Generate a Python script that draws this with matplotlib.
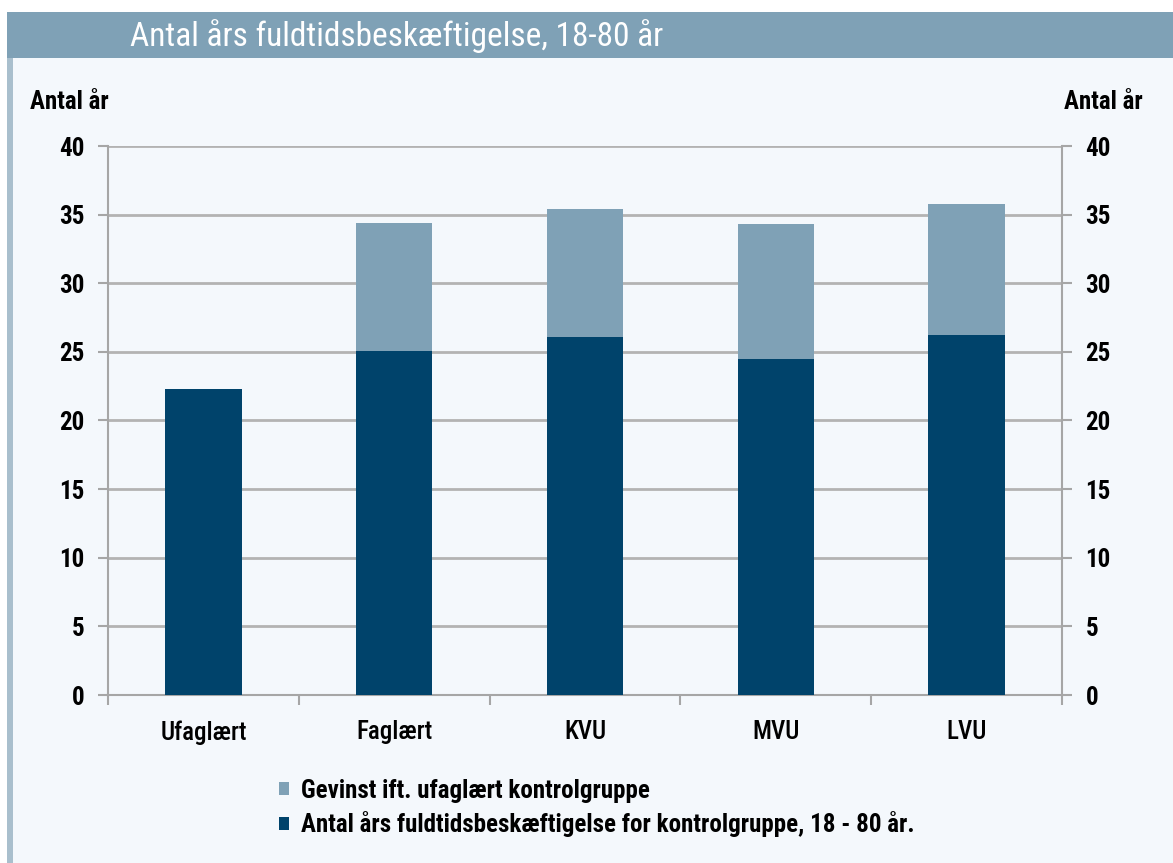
import matplotlib
matplotlib.use("Agg")
import matplotlib.pyplot as plt
from matplotlib import font_manager
from matplotlib.patches import Rectangle, Patch
import numpy as np

categories = ["Ufaglært", "Faglært", "KVU", "MVU", "LVU"]
control_years = [22.3, 25.1, 26.1, 24.5, 26.2]
gain_years = [0.0, 9.3, 9.3, 9.8, 9.6]
yticks = [0, 5, 10, 15, 20, 25, 30, 35, 40]

title = "Antal års fuldtidsbeskæftigelse, 18-80 år"
ylabel = "Antal år"
label_gain = "Gevinst ift. ufaglært kontrolgruppe"
label_control = "Antal års fuldtidsbeskæftigelse for kontrolgruppe, 18 - 80 år."

DARK = "#00436b"
LIGHT = "#7fa1b6"
GRID = "#b3b3b3"
BG = "#f4f8fc"

# pick a narrow humanist font if one is around
installed = {f.name for f in font_manager.fontManager.ttflist}
font = "DejaVu Sans"
for cand in ["Liberation Sans Narrow", "Roboto Condensed", "Open Sans Condensed", "Lato"]:
    if cand in installed:
        font = cand
        break
plt.rcParams["font.family"] = [font, "DejaVu Sans"]

fig = plt.figure(figsize=(11.73, 8.63), dpi=100, facecolor="white")

# panel background + left border + title bar (behind the axes)
fig.patches.append(Rectangle((7 / 1173, 0), 1 - 7 / 1173, 1 - 12 / 863,
                             transform=fig.transFigure, facecolor=BG,
                             edgecolor="none", zorder=-3))
fig.patches.append(Rectangle((7 / 1173, 0), 6 / 1173, 1 - 12 / 863,
                             transform=fig.transFigure, facecolor="#a9bfcd",
                             edgecolor="none", zorder=-2))
fig.patches.append(Rectangle((7 / 1173, 1 - 58 / 863), 1 - 7 / 1173, 46 / 863,
                             transform=fig.transFigure, facecolor=LIGHT,
                             edgecolor="none", zorder=-2))
fig.text(130 / 1173, 1 - 36 / 863, title, color="white", fontsize=24,
         ha="left", va="center")

ax = fig.add_axes([108 / 1173, 1 - 695 / 863, (1062 - 108) / 1173, (695 - 146) / 863])
ax.set_facecolor("none")

x = np.arange(len(categories))
ax.bar(x, control_years, width=0.4, color=DARK, zorder=3)
ax.bar(x, gain_years, width=0.4, bottom=control_years, color=LIGHT, zorder=3)

ax.set_xlim(-0.5, len(categories) - 0.5)
ax.set_ylim(0, 40)
ax.set_yticks(yticks)
ax.set_xticks(x)
ax.set_xticklabels(categories)
ax.set_xticks(np.arange(-0.5, len(categories), 1), minor=True)

ax.grid(axis="y", color=GRID, linewidth=2, zorder=1)
ax.set_axisbelow(True)

for side in ["left", "right", "bottom"]:
    ax.spines[side].set_color("#a6a6a6")
    ax.spines[side].set_linewidth(1.5)
ax.spines["top"].set_visible(False)

ax.tick_params(axis="y", which="both", left=True, right=True, labelleft=True,
               labelright=True, length=7, width=1.5, color="#a6a6a6",
               labelsize=18, pad=10)
ax.tick_params(axis="x", which="major", length=0, labelsize=18, pad=18)
ax.tick_params(axis="x", which="minor", length=7, width=1.5, color="#a6a6a6")
for lab in ax.get_yticklabels():
    lab.set_fontweight("semibold")
for lab in ax.get_xticklabels():
    lab.set_fontweight("medium")

fig.text(30 / 1173, 1 - 102 / 863, ylabel, fontsize=18, fontweight="bold",
         ha="left", va="center")
fig.text(1143 / 1173, 1 - 102 / 863, ylabel, fontsize=18, fontweight="bold",
         ha="right", va="center")

handles = [Patch(facecolor=LIGHT, edgecolor="none", label=label_gain),
           Patch(facecolor=DARK, edgecolor="none", label=label_control)]
fig.legend(handles=handles, loc="upper left",
           bbox_to_anchor=(256 / 1173, 1 - 756 / 863), frameon=False,
           handlelength=0.4, handleheight=0.4, handletextpad=0.5,
           labelspacing=0.35, prop={"size": 18, "weight": "bold"})

fig.savefig("out.png", dpi=100, facecolor=fig.get_facecolor())
